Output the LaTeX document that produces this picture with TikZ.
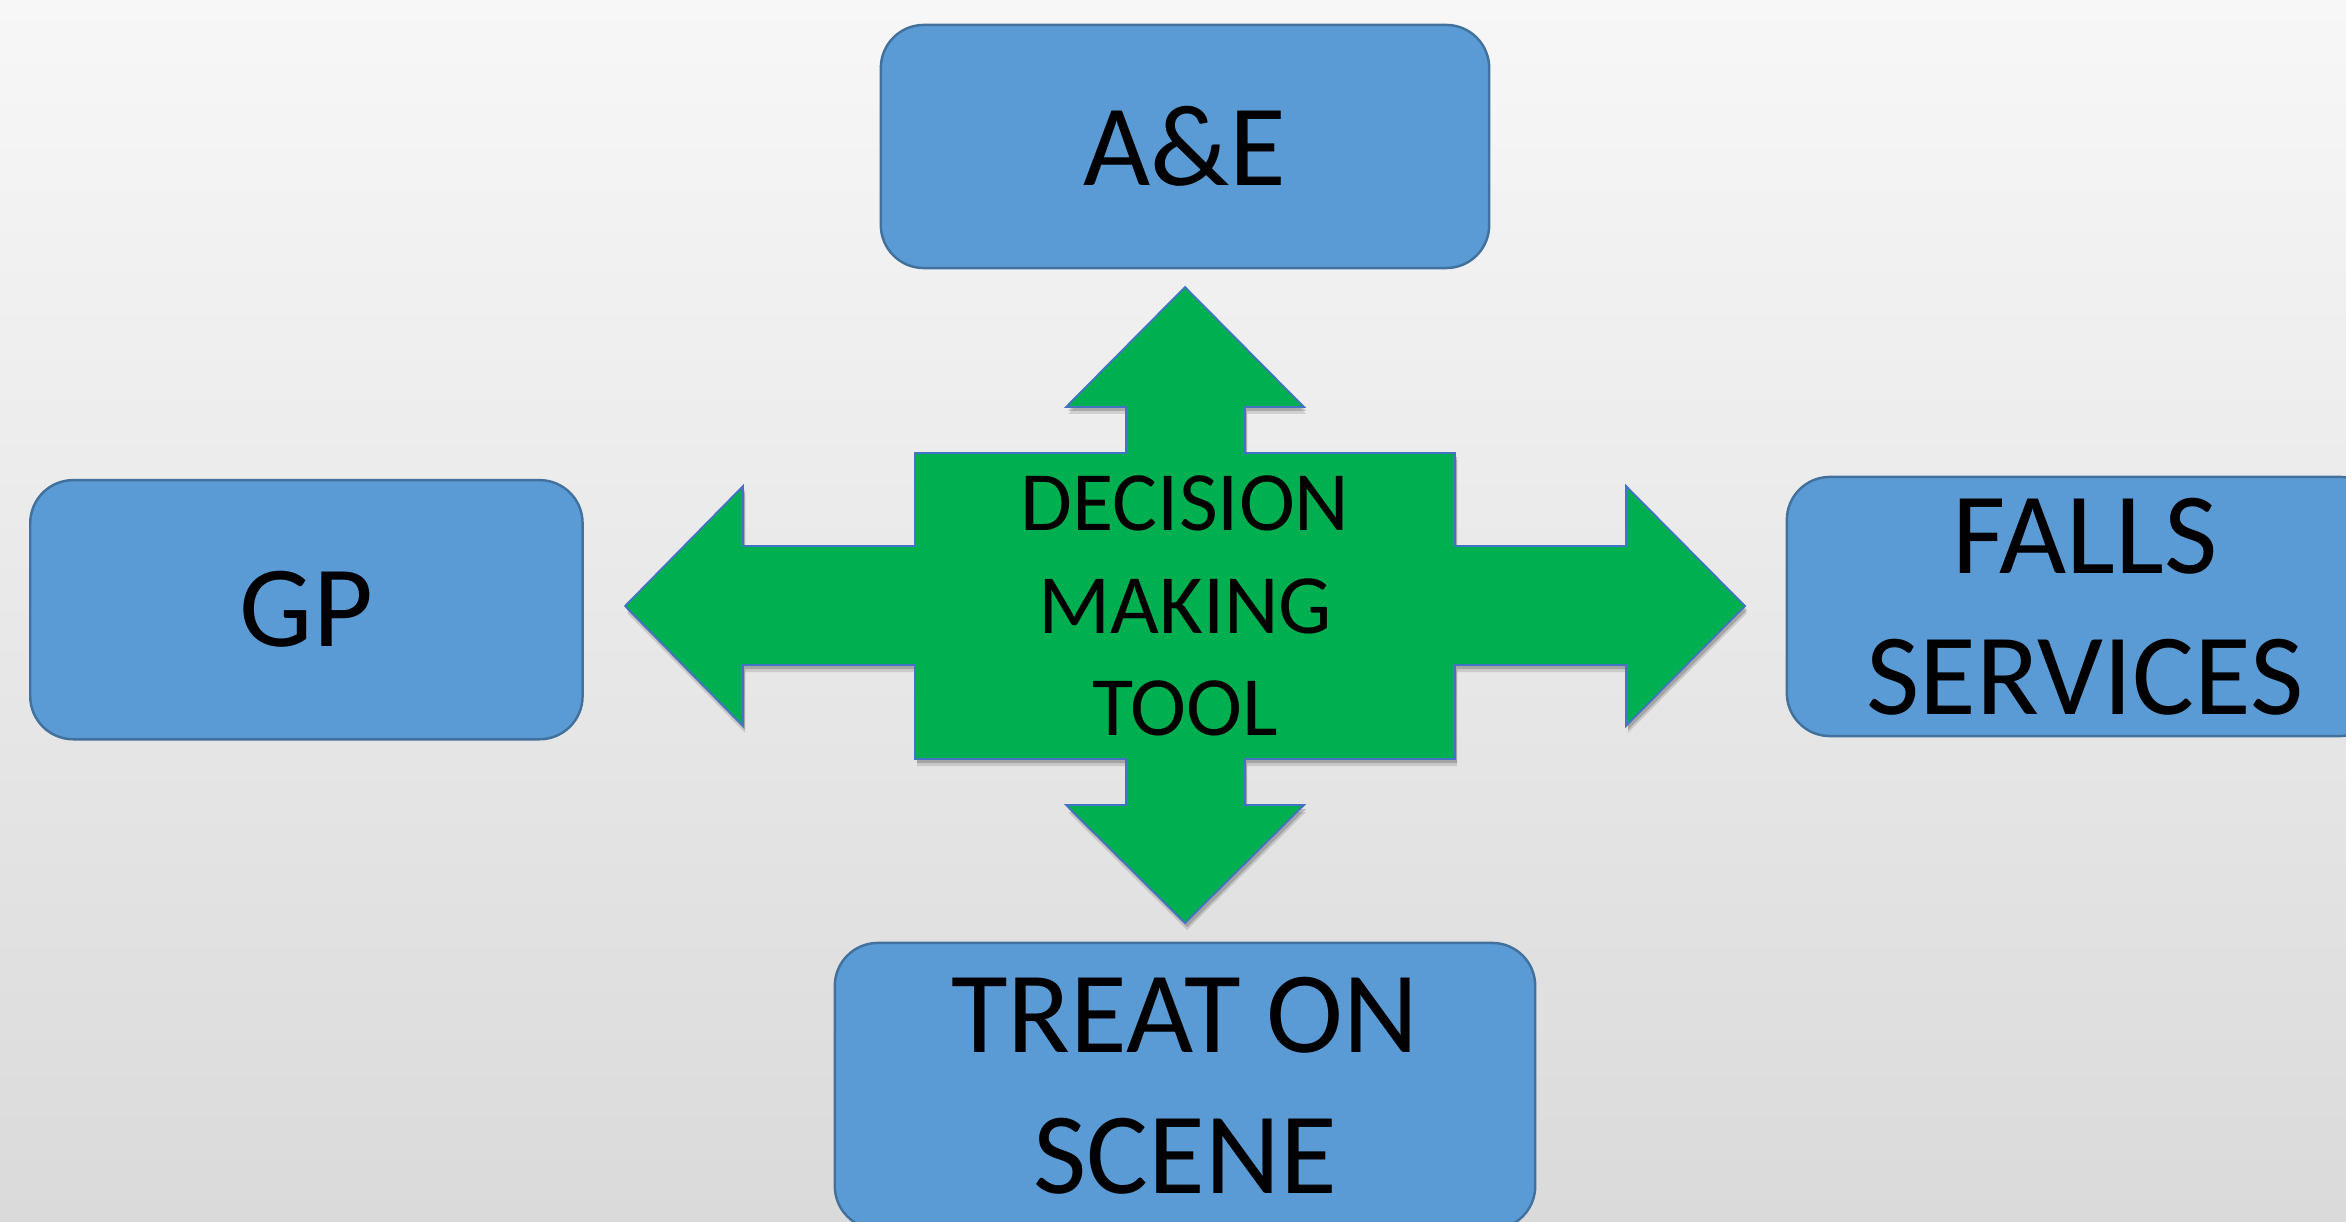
\documentclass[tikz,border=0pt]{standalone}
\usepackage{fontspec}
\setmainfont{Carlito}
\definecolor{boxfill}{HTML}{5B9BD5}
\definecolor{boxline}{HTML}{41719C}
\definecolor{crossfill}{HTML}{00B050}
\definecolor{crossline}{HTML}{4472C4}
\definecolor{bgtop}{HTML}{F7F7F7}
\definecolor{bgbot}{HTML}{DADADA}
\begin{document}
\begin{tikzpicture}[x=0.01cm,y=-0.01cm,
  svc/.style={draw=boxline, line width=0.7pt, fill=boxfill, rounded corners=0.43cm,
    inner sep=0pt, align=center, text=black, font=\fontsize{33}{40}\selectfont},
  toollabel/.style={inner sep=0pt, align=center, text=black, font=\fontsize{24}{29.2}\selectfont},
  crossp/.style={insert path={(1185,287) -- (1304,407) -- (1245,407) -- (1245,453) -- (1455,453)
    -- (1455,546) -- (1626,546) -- (1626,486) -- (1745,606) -- (1626,726) -- (1626,665)
    -- (1455,665) -- (1455,759) -- (1245,759) -- (1245,805) -- (1304,805) -- (1185,923)
    -- (1066,805) -- (1126,805) -- (1126,759) -- (915,759) -- (915,665) -- (743,665)
    -- (743,726) -- (625,606) -- (743,486) -- (743,546) -- (915,546) -- (915,453)
    -- (1126,453) -- (1126,407) -- (1066,407) -- cycle}}]
\useasboundingbox (0,0) rectangle (2346,1222);
\shade[top color=bgtop, bottom color=bgbot] (0,0) rectangle (2346,1222);
\clip (0,0) rectangle (2346,1222);

% green decision cross with soft shadow
\fill[black, opacity=0.12, shift={(2,7)}] [crossp];
\fill[black, opacity=0.18, shift={(2,4)}] [crossp];
\filldraw[fill=crossfill, draw=crossline, line width=0.5pt, line join=miter] [crossp];
\node[toollabel] (tool) at (1185,606) {DECISION\\MAKING\\TOOL};

% destination boxes
\node[svc, minimum width=6.08cm, minimum height=2.43cm] (ae) at (1185,146.5) {A\&E};
\node[svc, minimum width=5.52cm, minimum height=2.59cm] (gp) at (306.4,609.7) {GP};
\node[svc, minimum width=5.96cm, minimum height=2.59cm] (falls) at (2085,606.5) {FALLS\\SERVICES};
\node[svc, minimum width=7.00cm, minimum height=2.86cm] (treat) at (1185,1086) {TREAT ON\\SCENE};
\end{tikzpicture}
\end{document}
